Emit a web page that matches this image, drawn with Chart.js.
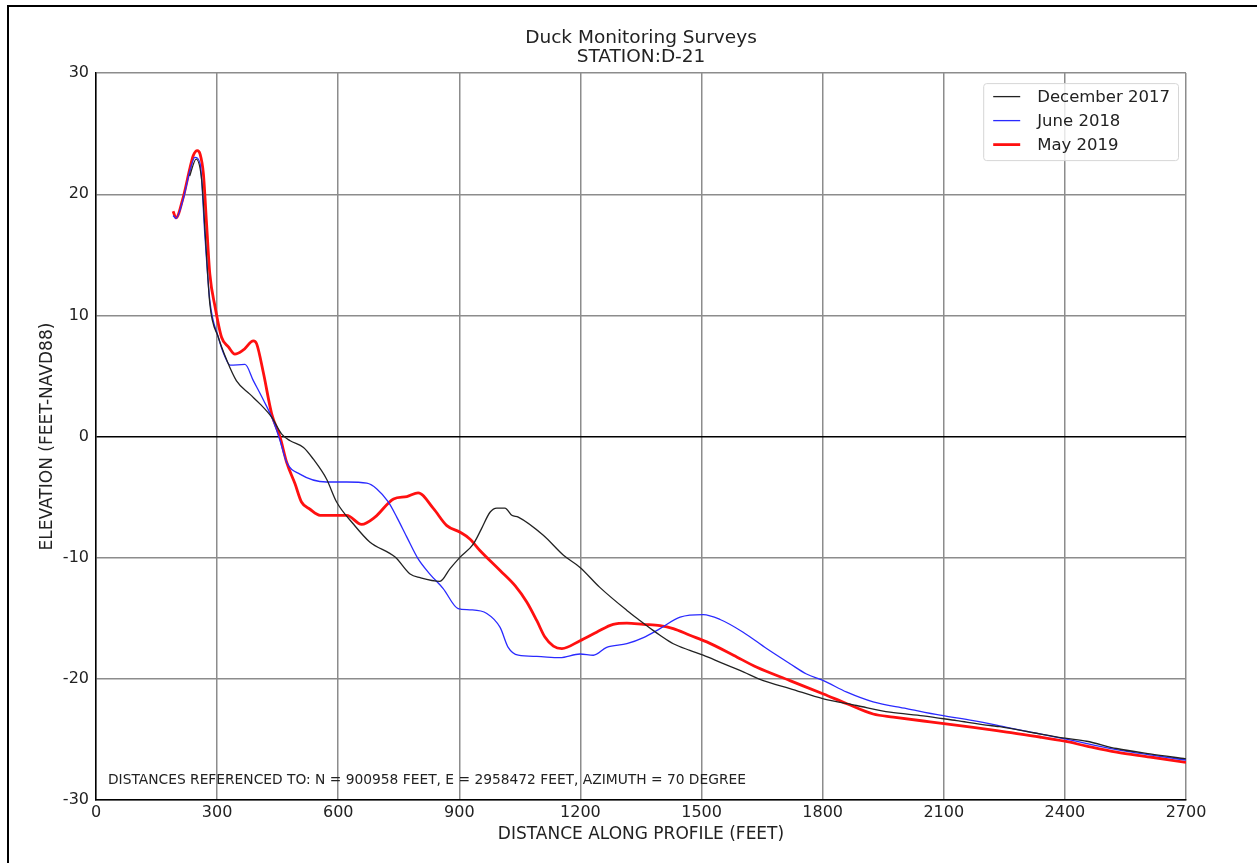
<!DOCTYPE html>
<html>
<head>
<meta charset="utf-8">
<script src="https://cdn.jsdelivr.net/npm/chart.js@4.4.1/dist/chart.umd.min.js"></script>
<style>
  html, body { margin: 0; padding: 0; background: #fff; overflow: hidden; }
  #wrap { position: relative; width: 1257px; height: 863px; }
  #frame { position: absolute; left: 7px; top: 5px; width: 1400px; height: 1000px;
           border-left: 2px solid #000; border-top: 2px solid #000; pointer-events: none; }
</style>
</head>
<body>
<div id="wrap">
  <canvas id="c" width="1257" height="863"></canvas>
  <div id="frame"></div>
</div>
<script>
// ---- Data ----
const titleLines = ['Duck Monitoring Surveys', 'STATION:D-21'];
const xAxisTitle = 'DISTANCE ALONG PROFILE (FEET)';
const yAxisTitle = 'ELEVATION (FEET-NAVD88)';
const noteText = 'DISTANCES REFERENCED TO: N = 900958 FEET, E = 2958472 FEET, AZIMUTH = 70 DEGREE';
const seriesLabels = ['December 2017', 'June 2018', 'May 2019'];

const decDist = [232,248,262,270,282,303,324,348,381,406,435,460,481,514,538,571,596,637,678,741,778,803,852,877,902,935,955,976,993,1013,1030,1046,1108,1158,1199,1248,1315,1348,1380,1397,1430,1471,1504,1554,1595,1653,1719,1802,1884,1967,2049,2132,2215,2239,2322,2400,2454,2528,2611,2700];
const decElev = [21.5,22.9,21.1,17.0,10.95,8.2,6.3,4.6,3.5,2.7,1.6,0.2,-0.35,-0.9,-1.85,-3.5,-5.4,-7.2,-8.7,-9.95,-11.35,-11.65,-11.95,-10.9,-9.95,-8.85,-7.6,-6.25,-5.9,-5.9,-6.5,-6.65,-8.15,-9.8,-10.8,-12.45,-14.35,-15.2,-16.0,-16.4,-17.1,-17.65,-18.05,-18.75,-19.3,-20.15,-20.8,-21.65,-22.2,-22.75,-23.05,-23.45,-23.85,-23.95,-24.45,-24.9,-25.15,-25.75,-26.2,-26.6];

const junDist = [191,198,216,233,245,258,270,282,303,320,332,369,390,415,439,456,472,505,571,621,671,695,724,745,770,798,827,860,897,926,968,1001,1021,1046,1092,1149,1199,1232,1265,1315,1356,1397,1447,1504,1546,1603,1661,1719,1760,1802,1860,1925,2008,2091,2173,2256,2338,2400,2528,2700];
const junElev = [18.25,18.0,19.6,22.0,23.05,22.5,16.45,11.2,8.2,6.55,5.9,5.95,4.6,3.0,1.3,-0.35,-2.1,-3.1,-3.75,-3.75,-3.85,-4.3,-5.4,-6.65,-8.3,-10.1,-11.35,-12.55,-14.2,-14.3,-14.6,-15.75,-17.4,-18.05,-18.15,-18.25,-17.95,-18.05,-17.4,-17.1,-16.6,-15.85,-14.9,-14.7,-15.1,-16.15,-17.5,-18.75,-19.6,-20.15,-21.1,-21.9,-22.45,-23.0,-23.45,-24.0,-24.55,-24.95,-25.85,-26.7];

const mayDist = [191,198,216,233,241,251,258,266,274,282,295,311,328,344,365,390,398,415,435,456,472,493,509,530,555,621,658,691,737,770,798,836,869,902,926,951,1001,1038,1067,1092,1112,1133,1154,1199,1240,1281,1315,1356,1397,1430,1471,1513,1579,1637,1719,1802,1860,1925,1975,2066,2173,2256,2338,2400,2454,2528,2611,2700];
const mayElev = [18.6,18.05,19.75,22.2,23.2,23.6,23.3,21.7,17.5,13.4,10.7,8.2,7.4,6.8,7.15,7.9,7.65,5.2,1.9,-0.05,-2.1,-3.9,-5.4,-6.0,-6.5,-6.5,-7.25,-6.65,-5.15,-4.95,-4.65,-5.95,-7.35,-7.9,-8.45,-9.4,-11.05,-12.3,-13.65,-15.2,-16.55,-17.3,-17.5,-16.85,-16.15,-15.5,-15.4,-15.5,-15.6,-15.85,-16.4,-16.95,-18.05,-19.05,-20.15,-21.25,-22.05,-22.9,-23.15,-23.55,-24.0,-24.4,-24.8,-25.15,-25.55,-26.05,-26.45,-26.9];

const xMin = 0, xMax = 2700, xStep = 300;
const yMin = -30, yMax = 30, yStep = 10;

function pts(xs, ys) { return xs.map((x, i) => ({ x: x, y: ys[i] })); }

const FONT = '"DejaVu Sans", Verdana, sans-serif';

const notePlugin = {
  id: 'notePlugin',
  afterDraw(chart) {
    const { ctx, chartArea } = chart;
    ctx.save();
    ctx.font = '13.8px "DejaVu Sans", sans-serif';
    ctx.fillStyle = '#222';
    ctx.textBaseline = 'middle';
    ctx.textAlign = 'left';
    ctx.fillText(noteText, chartArea.left + 12, chartArea.bottom - 20);
    ctx.restore();
  }
};

const boxLegend = {
  id: 'boxLegend',
  afterDraw(chart) {
    const { ctx, chartArea } = chart;
    const ds = chart.data.datasets;
    ctx.save();
    ctx.font = '16.5px ' + FONT;
    const lineLen = 27, gap = 17, padX = 10, rowH = 24;
    const textW = Math.max.apply(null, ds.map(d => ctx.measureText(d.label).width));
    const w = padX + lineLen + gap + textW + 8;
    const h = rowH * (ds.length - 1) + 29;
    const x = chartArea.right - 8 - w, y = chartArea.top + 10;
    ctx.fillStyle = 'rgba(255,255,255,0.8)';
    ctx.strokeStyle = '#d6d6d6';
    ctx.lineWidth = 1;
    ctx.beginPath();
    ctx.roundRect(x + 0.5, y + 0.5, w, h, 3);
    ctx.fill();
    ctx.stroke();
    ds.forEach((d, i) => {
      const cy = y + 13.5 + i * rowH;
      ctx.strokeStyle = d.borderColor;
      ctx.lineWidth = d.borderWidth;
      ctx.beginPath();
      ctx.moveTo(x + padX, cy);
      ctx.lineTo(x + padX + lineLen, cy);
      ctx.stroke();
      ctx.fillStyle = '#222';
      ctx.textBaseline = 'middle';
      ctx.textAlign = 'left';
      ctx.fillText(d.label, x + padX + lineLen + gap, cy + 1);
    });
    ctx.restore();
  }
};

new Chart(document.getElementById('c'), {
  type: 'scatter',
  data: {
    datasets: [
      { label: seriesLabels[0], data: pts(decDist, decElev), borderColor: '#222222', borderWidth: 1.3 },
      { label: seriesLabels[1], data: pts(junDist, junElev), borderColor: '#2a2aff', borderWidth: 1.3 },
      { label: seriesLabels[2], data: pts(mayDist, mayElev), borderColor: '#ff1010', borderWidth: 2.8 }
    ].map(d => Object.assign(d, {
      showLine: true, pointRadius: 0, pointHoverRadius: 0, fill: false,
      cubicInterpolationMode: 'monotone', backgroundColor: d.borderColor
    }))
  },
  options: {
    responsive: false,
    animation: false,
    devicePixelRatio: 1,
    layout: { padding: { left: 0, right: 71, top: 0, bottom: 0 } },
    plugins: {
      legend: { display: false },
      tooltip: { enabled: false },
      title: {
        display: true, text: titleLines, fullSize: false,
        color: '#222', font: { family: FONT, size: 18.5, weight: 'normal', lineHeight: 1.03 },
        padding: { top: 29, bottom: 6 }
      }
    },
    scales: {
      x: {
        type: 'linear', min: xMin, max: xMax,
        afterFit(s) { s.height = 63; },
        ticks: { stepSize: xStep, color: '#222', font: { family: FONT, size: 16 }, padding: 3, maxRotation: 0,
                 callback: v => String(v) },
        grid: { color: '#8c8c8c', lineWidth: 1.5, drawTicks: false },
        border: { color: '#000', width: 1.5 },
        title: { display: true, text: xAxisTitle, color: '#222', font: { family: FONT, size: 17 }, padding: { top: 0, bottom: 18 } }
      },
      y: {
        type: 'linear', min: yMin, max: yMax,
        afterFit(s) { s.width = 96; },
        ticks: { stepSize: yStep, color: '#222', font: { family: FONT, size: 16 }, padding: 7,
                 callback: v => String(v) },
        grid: {
          color: c => (c.tick && c.tick.value === 0) ? '#000' : '#8c8c8c',
          lineWidth: 1.5, drawTicks: false
        },
        border: { color: '#000', width: 1.5 },
        title: { display: true, text: yAxisTitle, color: '#222', font: { family: FONT, size: 17 }, padding: { top: 37, bottom: 0 } }
      }
    }
  },
  plugins: [notePlugin, boxLegend]
});
</script>
</body>
</html>
